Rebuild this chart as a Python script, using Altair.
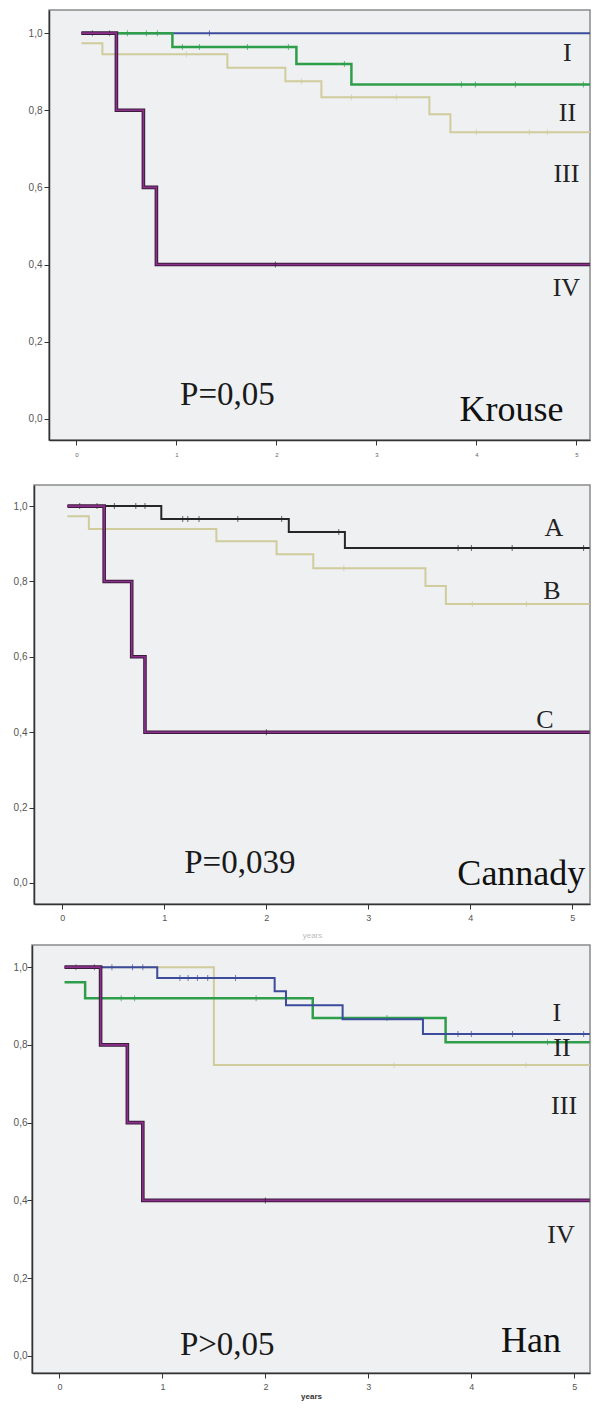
import altair as alt
import pandas as pd

# ---------------- data ----------------
# Panel 1: Krouse  (last time = end of follow-up shown on the axis)
kr_I_t = [0.05, 5.14]
kr_I_s = [1.0, 1.0]
kr_I_c = [0.16, 0.33, 1.33]
kr_II_t = [0.05, 0.96, 2.2, 2.75, 5.14]
kr_II_s = [1.0, 0.964, 0.92, 0.867, 0.867]
kr_II_c = [0.51, 0.7, 0.81, 1.06, 1.23, 1.71, 2.12, 2.68, 3.85, 3.99, 4.39, 5.07]
kr_III_t = [0.05, 0.26, 1.51, 2.09, 2.45, 3.53, 3.74, 5.14]
kr_III_s = [0.974, 0.945, 0.91, 0.875, 0.834, 0.79, 0.743, 0.743]
kr_III_c = [1.1, 2.25, 2.75, 3.2, 4.0, 4.53, 4.71]
kr_IV_t = [0.05, 0.4, 0.67, 0.8, 5.14]
kr_IV_s = [1.0, 0.8, 0.6, 0.4, 0.4]
kr_IV_c = [1.99]

# Panel 2: Cannady
ca_A_t = [0.05, 0.97, 2.22, 2.77, 5.17]
ca_A_s = [1.0, 0.966, 0.931, 0.889, 0.889]
ca_A_c = [0.17, 0.34, 0.51, 0.72, 0.81, 1.18, 1.23, 1.34, 1.72, 2.15, 2.71, 3.88, 4.01, 4.41, 5.11]
ca_B_t = [0.05, 0.26, 1.51, 2.1, 2.46, 3.56, 3.76, 5.17]
ca_B_s = [0.973, 0.939, 0.907, 0.872, 0.835, 0.788, 0.74, 0.74]
ca_B_c = [2.76, 4.02, 4.55]
ca_C_t = [0.05, 0.41, 0.68, 0.81, 5.17]
ca_C_s = [1.0, 0.8, 0.6, 0.4, 0.4]
ca_C_c = [2.0]

# Panel 3: Han
ha_I_t = [0.05, 0.95, 2.09, 2.2, 2.75, 3.53, 5.15]
ha_I_s = [1.0, 0.972, 0.938, 0.902, 0.866, 0.828, 0.828]
ha_I_c = [0.16, 0.34, 0.51, 0.71, 0.81, 1.17, 1.25, 1.34, 1.44, 1.71, 3.87, 4.0, 4.4, 5.09]
ha_II_t = [0.05, 0.25, 2.46, 3.75, 5.15]
ha_II_s = [0.961, 0.92, 0.869, 0.807, 0.807]
ha_II_c = [0.6, 0.73, 1.91, 3.18, 4.74, 4.83]
ha_III_t = [0.05, 1.5, 5.15]
ha_III_s = [1.0, 0.748, 0.748]
ha_III_c = [3.25, 4.53]
ha_IV_t = [0.05, 0.4, 0.66, 0.81, 5.15]
ha_IV_s = [1.0, 0.8, 0.6, 0.4, 0.4]
ha_IV_c = [2.0]

# annotations (data coordinates)
kr_lab_text = ["I", "II", "III", "IV"]
kr_lab_x = [4.91, 4.91, 4.90, 4.90]
kr_lab_y = [0.948, 0.792, 0.634, 0.338]
ca_lab_text = ["A", "B", "C"]
ca_lab_x = [4.82, 4.80, 4.73]
ca_lab_y = [0.942, 0.775, 0.432]
ha_lab_text = ["I", "II", "III", "IV"]
ha_lab_x = [4.83, 4.88, 4.90, 4.87]
ha_lab_y = [0.882, 0.792, 0.643, 0.311]

p_text = ["P=0,05", "P=0,039", "P>0,05"]
p_x = [1.51, 1.74, 1.63]
p_y = [0.062, 0.053, 0.028]
name_text = ["Krouse", "Cannady", "Han"]
name_x = [4.35, 4.50, 4.58]
name_y = [0.023, 0.024, 0.039]

x_ticks = [0, 1, 2, 3, 4, 5]
y_ticks = [0.0, 0.2, 0.4, 0.6, 0.8, 1.0]

BLUE = "#3d4b9c"
GREEN = "#2f9e4b"
TAN = "#d0cc9c"
PURPLE = "#8e2f8e"
PURPLE_DARK = "#3a1d3a"
BLACK = "#262626"

SERIF = "Liberation Serif"
YLAB = "replace(format(datum.value, '.1f'), '.', ',')"


def censor_df(t, s, c):
    rows = []
    for ct in c:
        val = s[0]
        for ti, si in zip(t, s):
            if ti <= ct:
                val = si
        rows.append({"t": ct, "s": val})
    return pd.DataFrame(rows)


def make_panel(series, labels, idx, xdom, ydom, w, h, xaxis, yaxis):
    xs = alt.Scale(domain=xdom, nice=False, zero=False)
    ys = alt.Scale(domain=ydom, nice=False, zero=False)
    X = alt.X("t:Q", scale=xs, axis=xaxis)
    Y = alt.Y("s:Q", scale=ys, axis=yaxis)
    layers = []
    for (t, s, c, color, width, outline) in series:
        df = pd.DataFrame({"t": t, "s": s})
        if outline:
            layers.append(alt.Chart(df).mark_line(
                interpolate="step-after", color=outline, strokeWidth=width + 2, clip=True
            ).encode(x=X, y=Y))
        layers.append(alt.Chart(df).mark_line(
            interpolate="step-after", color=color, strokeWidth=width, clip=True
        ).encode(x=X, y=Y))
        cdf = censor_df(t, s, c)
        layers.append(alt.Chart(cdf).mark_tick(
            orient="vertical", size=6, thickness=1, color=outline or color, clip=True
        ).encode(x=X, y=Y))
    ltext, lx, ly = labels
    ldf = pd.DataFrame({"t": lx, "s": ly, "txt": ltext})
    layers.append(alt.Chart(ldf).mark_text(
        font=SERIF, fontSize=26, color="#222", baseline="middle", align="center"
    ).encode(x=X, y=Y, text="txt:N"))
    pdf = pd.DataFrame({"t": [p_x[idx]], "s": [p_y[idx]], "txt": [p_text[idx]]})
    layers.append(alt.Chart(pdf).mark_text(
        font=SERIF, fontSize=33, color="#1a1a1a", baseline="middle", align="center"
    ).encode(x=X, y=Y, text="txt:N"))
    ndf = pd.DataFrame({"t": [name_x[idx]], "s": [name_y[idx]], "txt": [name_text[idx]]})
    layers.append(alt.Chart(ndf).mark_text(
        font=SERIF, fontSize=36, color="#111", baseline="middle", align="center"
    ).encode(x=X, y=Y, text="txt:N"))
    return alt.layer(*layers).properties(width=w, height=h)


def spacer(w, h):
    return alt.Chart(pd.DataFrame({"a": [0]})).mark_point(opacity=0, size=1).encode(
        x=alt.value(0), y=alt.value(0)
    ).properties(width=w, height=h,
                 view=alt.ViewBackground(fill="transparent", stroke="transparent"))


common_y = dict(values=y_ticks, labelExpr=YLAB, grid=False, tickSize=5,
                labelFontSize=10, labelColor="#555", title=None)

# Panel 1
p1 = make_panel(
    [
        (kr_I_t, kr_I_s, kr_I_c, BLUE, 2, None),
        (kr_II_t, kr_II_s, kr_II_c, GREEN, 2.5, None),
        (kr_III_t, kr_III_s, kr_III_c, TAN, 2, None),
        (kr_IV_t, kr_IV_s, kr_IV_c, PURPLE, 1.6, PURPLE_DARK),
    ],
    (kr_lab_text, kr_lab_x, kr_lab_y), 0,
    [-0.274, 5.136], [-0.055, 1.06], 541, 430,
    alt.Axis(values=x_ticks, format="d", grid=False, tickSize=5, labelFontSize=6,
             labelPadding=6, labelColor="#666", title=None),
    alt.Axis(labelPadding=2, **common_y),
)

# Panel 2
p2 = make_panel(
    [
        (ca_A_t, ca_A_s, ca_A_c, BLACK, 2, None),
        (ca_B_t, ca_B_s, ca_B_c, TAN, 2, None),
        (ca_C_t, ca_C_s, ca_C_c, PURPLE, 1.6, PURPLE_DARK),
    ],
    (ca_lab_text, ca_lab_x, ca_lab_y), 1,
    [-0.278, 5.173], [-0.056, 1.056], 556, 419,
    alt.Axis(values=x_ticks, format="d", grid=False, tickSize=5, labelFontSize=9,
             labelPadding=4, labelColor="#555", title="years", titleColor="#bbbbbb",
             titleFontSize=8, titleFontWeight="normal", titlePadding=9),
    alt.Axis(labelPadding=2, **common_y),
)

# Panel 3
p3 = make_panel(
    [
        (ha_III_t, ha_III_s, ha_III_c, TAN, 2, None),
        (ha_II_t, ha_II_s, ha_II_c, GREEN, 2.5, None),
        (ha_I_t, ha_I_s, ha_I_c, BLUE, 2, None),
        (ha_IV_t, ha_IV_s, ha_IV_c, PURPLE, 1.6, PURPLE_DARK),
    ],
    (ha_lab_text, ha_lab_x, ha_lab_y), 2,
    [-0.266, 5.152], [-0.044, 1.057], 558, 428,
    alt.Axis(values=x_ticks, format="d", grid=False, tickSize=5, labelFontSize=9,
             labelPadding=4, labelColor="#555", title="years", titleColor="#333",
             titleFontSize=8, titleFontWeight="bold", titlePadding=1),
    alt.Axis(labelPadding=0, **common_y),
)

row1 = alt.hconcat(spacer(16, 472), p1, spacing=0)
row2 = alt.hconcat(spacer(1, 457), p2, spacing=0)
row3 = alt.hconcat(spacer(1, 10), p3, spacing=0)

chart = alt.vconcat(row1, row2, row3, spacing=0).properties(
    padding=0
).configure_view(
    fill="#eef0f2", stroke="#8a8a8a", strokeWidth=1.5
).configure_axis(
    domainColor="#333", domainWidth=1.5, tickColor="#333", labelFont="Liberation Sans",
    titleFont="Liberation Sans"
)

chart.save("out.html", embed_options={"renderer": "svg", "actions": False})
